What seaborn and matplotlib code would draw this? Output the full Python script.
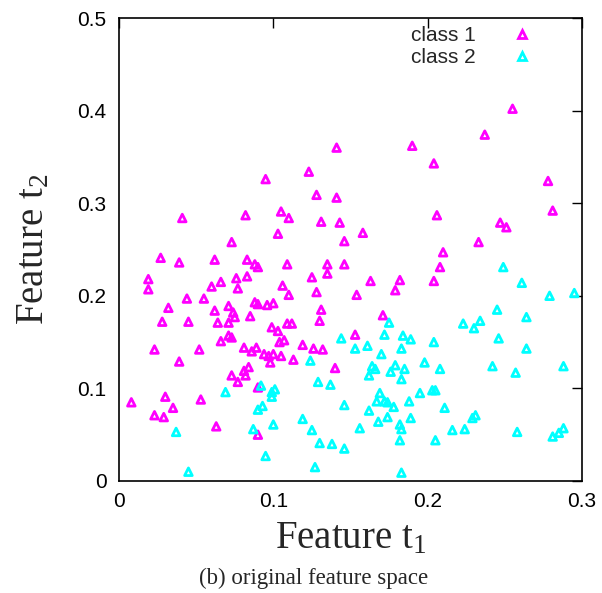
import pandas as pd
import matplotlib
matplotlib.use('Agg')
import matplotlib.pyplot as plt
from matplotlib.lines import Line2D
import seaborn as sns

# valeurs (Feature t1, Feature t2)
class1_t1 = [0.141, 0.123, 0.190, 0.255, 0.237, 0.204, 0.095, 0.041, 0.082, 0.073,
             0.027, 0.039, 0.062, 0.083, 0.088, 0.090, 0.019, 0.019, 0.060, 0.066,
             0.076, 0.083, 0.077, 0.044, 0.055, 0.032, 0.062, 0.071, 0.074, 0.075,
             0.085, 0.088, 0.090, 0.096, 0.100, 0.028, 0.045, 0.064, 0.071, 0.099,
             0.128, 0.141, 0.105, 0.110, 0.131, 0.143, 0.158, 0.103, 0.146, 0.109,
             0.135, 0.146, 0.135, 0.125, 0.163, 0.182, 0.106, 0.110, 0.128, 0.154,
             0.179, 0.131, 0.130, 0.171, 0.109, 0.112, 0.103, 0.278, 0.281, 0.206,
             0.247, 0.251, 0.233, 0.210, 0.208, 0.204, 0.023, 0.052, 0.039, 0.066,
             0.071, 0.073, 0.081, 0.086, 0.089, 0.094, 0.097, 0.100, 0.098, 0.081,
             0.084, 0.082, 0.073, 0.077, 0.090, 0.008, 0.030, 0.053, 0.035, 0.023,
             0.029, 0.063, 0.090, 0.104, 0.107, 0.105, 0.119, 0.126, 0.132, 0.113,
             0.153, 0.140]
class1_t2 = [0.360, 0.334, 0.362, 0.402, 0.374, 0.343, 0.326, 0.284, 0.287, 0.258,
             0.241, 0.236, 0.239, 0.239, 0.234, 0.231, 0.218, 0.207, 0.210, 0.215,
             0.219, 0.221, 0.208, 0.197, 0.197, 0.187, 0.184, 0.189, 0.182, 0.177,
             0.178, 0.193, 0.191, 0.190, 0.192, 0.172, 0.172, 0.171, 0.171, 0.166,
             0.309, 0.306, 0.291, 0.284, 0.280, 0.279, 0.268, 0.267, 0.259, 0.234,
             0.234, 0.234, 0.224, 0.220, 0.216, 0.217, 0.211, 0.201, 0.204, 0.201,
             0.206, 0.185, 0.173, 0.179, 0.170, 0.170, 0.162, 0.324, 0.292, 0.287,
             0.279, 0.274, 0.258, 0.247, 0.231, 0.216, 0.142, 0.142, 0.129, 0.151,
             0.157, 0.155, 0.144, 0.140, 0.144, 0.137, 0.135, 0.137, 0.128, 0.119,
             0.123, 0.114, 0.114, 0.107, 0.101, 0.085, 0.091, 0.088, 0.079, 0.071,
             0.069, 0.059, 0.050, 0.150, 0.152, 0.135, 0.147, 0.143, 0.142, 0.131,
             0.158, 0.122]

class2_t1 = [0.175, 0.249, 0.261, 0.279, 0.295, 0.245, 0.264, 0.223, 0.234, 0.230,
             0.092, 0.069, 0.099, 0.099, 0.090, 0.093, 0.037, 0.087, 0.100, 0.095,
             0.045, 0.144, 0.172, 0.184, 0.189, 0.153, 0.161, 0.170, 0.183, 0.198,
             0.124, 0.164, 0.166, 0.162, 0.176, 0.179, 0.185, 0.183, 0.129, 0.137,
             0.101, 0.195, 0.169, 0.167, 0.172, 0.174, 0.178, 0.188, 0.146, 0.162,
             0.119, 0.125, 0.156, 0.168, 0.174, 0.182, 0.183, 0.189, 0.130, 0.138,
             0.146, 0.182, 0.127, 0.183, 0.204, 0.246, 0.264, 0.208, 0.242, 0.257,
             0.288, 0.203, 0.205, 0.211, 0.229, 0.231, 0.216, 0.224, 0.258, 0.205,
             0.281, 0.285, 0.288]
class2_t2 = [0.171, 0.231, 0.214, 0.200, 0.203, 0.185, 0.177, 0.170, 0.173, 0.165,
             0.103, 0.096, 0.096, 0.091, 0.077, 0.081, 0.053, 0.056, 0.061, 0.027,
             0.010, 0.154, 0.158, 0.157, 0.153, 0.143, 0.146, 0.137, 0.143, 0.128,
             0.130, 0.124, 0.121, 0.114, 0.118, 0.125, 0.121, 0.110, 0.107, 0.104,
             0.099, 0.095, 0.095, 0.086, 0.086, 0.085, 0.080, 0.086, 0.082, 0.076,
             0.067, 0.055, 0.057, 0.064, 0.069, 0.061, 0.056, 0.068, 0.041, 0.040,
             0.035, 0.044, 0.015, 0.009, 0.150, 0.154, 0.143, 0.121, 0.124, 0.117,
             0.124, 0.098, 0.098, 0.079, 0.068, 0.071, 0.055, 0.056, 0.053, 0.044,
             0.048, 0.052, 0.057]

class_names = ['class 1', 'class 2']
class_colors = ['#ff00ff', '#00ffff']
x_ticks = [0, 0.1, 0.2, 0.3]
y_ticks = [0, 0.1, 0.2, 0.3, 0.4, 0.5]

df = pd.DataFrame({
    't1': class1_t1 + class2_t1,
    't2': class1_t2 + class2_t2,
    'cls': [class_names[0]] * len(class1_t1) + [class_names[1]] * len(class2_t1),
})

sns.set_theme(style='white')
plt.rcParams['font.family'] = ['Liberation Sans', 'DejaVu Sans']
plt.rcParams['mathtext.fontset'] = 'custom'
plt.rcParams['mathtext.rm'] = 'Liberation Serif'
plt.rcParams['mathtext.it'] = 'Liberation Serif:italic'

fig = plt.figure(figsize=(6.02, 5.93), dpi=100)
ax = fig.add_axes([119 / 602, 1 - 481 / 593, 463 / 602, 463 / 593])

palette = dict(zip(class_names, class_colors))
sns.scatterplot(data=df, x='t1', y='t2', hue='cls', palette=palette,
                marker='^', s=30, linewidth=2.0, legend=False, ax=ax)

# triangles creux façon gnuplot
coll = ax.collections[0]
coll.set_edgecolors(coll.get_facecolors())
coll.set_facecolors('none')

ax.set_xlim(0, 0.3)
ax.set_ylim(0, 0.5)
ax.set_xticks(x_ticks)
ax.set_xticklabels([f'{v:g}' for v in x_ticks])
ax.set_yticks(y_ticks)
ax.set_yticklabels([f'{v:g}' for v in y_ticks])
ax.tick_params(direction='in', length=7, width=1, top=True, right=True,
               labelsize=15, colors='black')
ax.tick_params(axis='x', pad=8)
ax.tick_params(axis='y', pad=9)
for sp in ax.spines.values():
    sp.set_color('black')
    sp.set_linewidth(1.2)

ax.set_xlabel('Feature t$_1$', fontsize=28, family='Liberation Serif')
ax.set_ylabel('Feature t$_2$', fontsize=28, family='Liberation Serif')
ax.xaxis.set_label_coords(0.5, -0.085)
ax.yaxis.set_label_coords(-0.145, 0.5)

handles = [Line2D([], [], linestyle='none', marker='^', markersize=5.5,
                  markerfacecolor='none', markeredgecolor=c, markeredgewidth=2.0)
           for c in class_colors]
ax.legend(handles, class_names, markerfirst=False, frameon=False,
          loc='upper right', bbox_to_anchor=(0.892, 0.982), borderaxespad=0,
          borderpad=0, fontsize=15, handlelength=1.0, handletextpad=1.7,
          labelspacing=0.12)

fig.text(314 / 602, 1 - 578 / 593, '(b) original feature space', ha='center',
         va='center', fontsize=16.5, family='Liberation Serif')

fig.savefig('out.png', dpi=100)
